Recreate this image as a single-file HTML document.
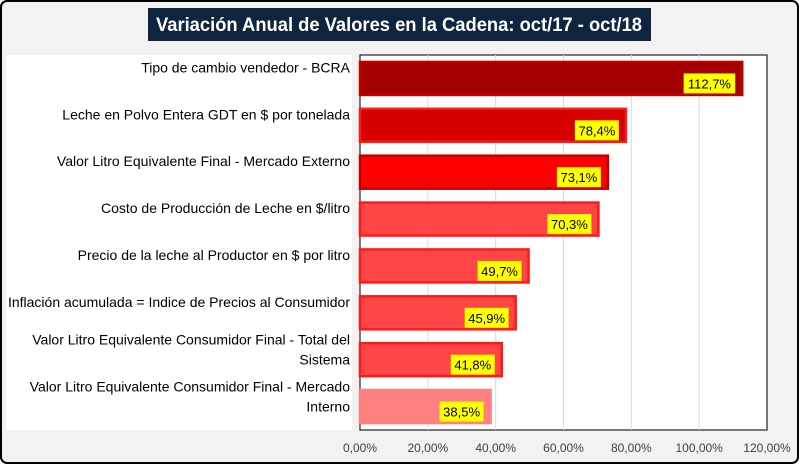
<!DOCTYPE html>
<html><head><meta charset="utf-8"><style>
body{margin:0;background:#fff}
svg{display:block;font-family:"Liberation Sans",sans-serif}
</style></head><body>
<svg id="c" width="800" height="465">
<rect x="1" y="1" width="797" height="462" rx="6" fill="#f2f2f2" stroke="#000" stroke-width="2"/>
<rect x="148" y="8" width="503" height="33" fill="#0f243e"/>
<text x="399" y="31" text-anchor="middle" fill="#fff" font-size="19" font-weight="bold" textLength="486" lengthAdjust="spacingAndGlyphs">Variación Anual de Valores en la Cadena: oct/17 - oct/18</text>
<rect x="6" y="55" width="346" height="375" fill="#fff"/>
<rect x="360" y="55" width="407" height="375" fill="#fff" stroke="#222" stroke-width="1.2"/>
<g id="g"></g><g id="b"></g>
</svg>
<script>
const categories=[["Tipo de cambio vendedor - BCRA"],["Leche en Polvo Entera GDT en $ por tonelada"],["Valor Litro Equivalente Final - Mercado Externo"],["Costo de Producción de Leche en $/litro"],["Precio de la leche al Productor en $ por litro"],["Inflación acumulada = Indice de Precios al Consumidor"],["Valor Litro Equivalente Consumidor Final - Total del","Sistema"],["Valor Litro Equivalente Consumidor Final - Mercado","Interno"]];
const values=[112.7,78.4,73.1,70.3,49.7,45.9,41.8,38.5];
const valueLabels=["112,7%","78,4%","73,1%","70,3%","49,7%","45,9%","41,8%","38,5%"];
const ticks=[0,20,40,60,80,100,120];
const tickLabels=["0,00%","20,00%","40,00%","60,00%","80,00%","100,00%","120,00%"];
const fills=["#a50000","#d60000","#ff0000","#ff4545","#ff4545","#ff4545","#ff4545","#ff8080"];
const strokes=["#c00000","#ff1a1a","#c00000","#ff1a1a","#ff1a1a","#ff1a1a","#ff1a1a","#ff8080"];
const NS="http://www.w3.org/2000/svg";
const X0=360,X1=767,T=55,B=430;
const x=v=>X0+(v/120)*(X1-X0);
const band=(B-T)/categories.length;
const y=i=>T+band*i+band/2;
const g=document.getElementById('g'),b=document.getElementById('b');
function mk(p,tag,a,txt){const e=document.createElementNS(NS,tag);for(const k in a)e.setAttribute(k,a[k]);if(txt!=null)e.textContent=txt;p.appendChild(e);return e;}
ticks.forEach((t,i)=>{
 if(i>0&&i<ticks.length-1){const l=mk(g,'line',{x1:x(t),x2:x(t),y1:T,y2:B,stroke:'#d9d9d9'});
 
 }
 const tx=mk(g,'text',{x:x(t),y:452,'text-anchor':'middle','font-size':12,fill:'#404040'},tickLabels[i]);
 
 
});
values.forEach((v,i)=>{
 const cy=y(i),h=33;
 const r=mk(b,'rect',{x:X0,y:cy-h/2,width:x(v)-X0,height:h,fill:fills[i],stroke:strokes[i],'stroke-width':2.5});
 
 
 const w=valueLabels[i].length*7.6+6;
 const lb=mk(b,'rect',{x:x(v)-7-w,y:cy-5,width:w,height:20,fill:'#ffff00'});
 
 
 const t=mk(b,'text',{x:x(v)-7-w/2,y:cy+10,'text-anchor':'middle','font-size':13,fill:'#000'},valueLabels[i]);
 
 
 const lines=categories[i];
 lines.forEach((s,j)=>{
  const ct=mk(b,'text',{x:350,y:cy-(lines.length-1)*9+j*20-6,'text-anchor':'end','font-size':14,fill:'#000'},s);
  
  
 });
});
</script>
</body></html>
